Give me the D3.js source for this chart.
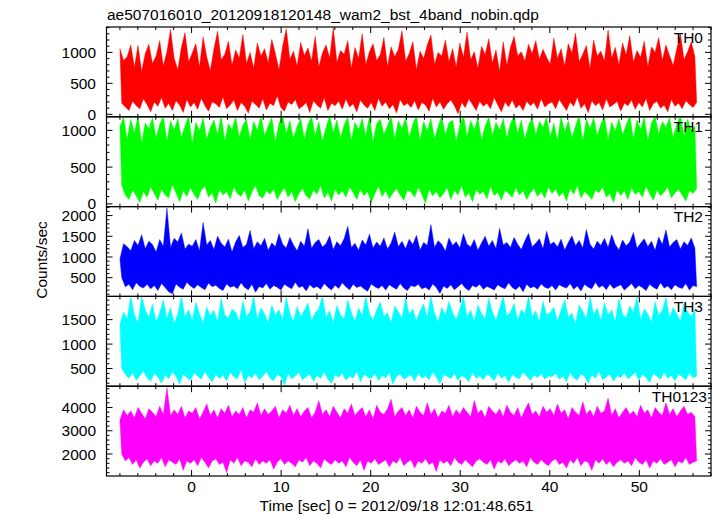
<!DOCTYPE html>
<html>
<head>
<meta charset="utf-8">
<script src="https://cdn.jsdelivr.net/npm/d3@7"></script>
<style>
html,body{margin:0;padding:0;background:#fff;}
svg{display:block;}
text{font-family:"Liberation Sans",Arial,Helvetica,sans-serif;fill:#000;}
</style>
</head>
<body>
<svg id="chart" width="717" height="516"></svg>
<script>
// ---------------- DATA ----------------
const title = "ae507016010_20120918120148_wam2_bst_4band_nobin.qdp";
const xTitle = "Time [sec] 0 = 2012/09/18 12:01:48.651";
const yTitle = "Counts/sec";
const panelNames = ["TH0", "TH1", "TH2", "TH3", "TH0123"];
const timeStart = -8.0, timeEnd = 56.4;           // light-curve span (s)
const xDomain = [-9.5, 58];
const xTickLabels = [0, 10, 20, 30, 40, 50];

const yDomains = [[-40, 1410], [-37, 1184], [48, 2217], [139, 1975], [1056, 4914]];
const yTickLabels = [[0, 500, 1000], [0, 500, 1000], [500, 1000, 1500, 2000], [500, 1000, 1500], [2000, 3000, 4000]];
const yMajorStep = [500, 500, 500, 500, 1000];
const yMinorStep = [100, 100, 100, 100, 200];
const colors = ["#ff0000", "#00ff00", "#0000ff", "#00ffff", "#ff00ff"];

// per-bin upper / lower excursions (counts/sec)
const th0Hi = [1060,870,930,1120,760,1110,690,980,1130,820,940,1190,780,1010,1370,900,720,1080,1320,850,
990,1140,760,1250,930,700,1060,1340,880,970,1180,790,1040,910,1290,820,1000,740,1150,940,
1060,830,1210,980,720,1100,1380,890,1020,780,1160,950,1070,860,1260,760,990,1120,910,1400,
840,1030,970,1190,740,1080,900,1300,800,1010,1140,870,960,1240,770,1090,930,1050,1350,860,
980,1170,720,1020,900,1120,1280,810,1000,940,1200,850,1060,760,1150,920,1330,880,1010,740,
1100,960,1220,830,1040,690,1170,790,1080,1260,940,1010,860,1130,980,1190,890,1050,920,810,
1230,900,1060,780,1140,990,1310,850,970,1110,730,1200,940,1020,860,1360,910,1080,800,1150,
960,1270,840,1030,920,1180,760,1090,1000,1240,870,1120,950,790,1060,1300,880,1010,1170,930];
const th0Lo = [180,120,60,210,140,90,250,160,40,200,130,270,100,180,60,220,150,30,240,120,
190,80,260,140,50,200,170,110,280,90,150,230,60,190,130,20,210,160,100,250,
70,180,140,300,110,50,200,160,240,90,130,190,30,220,150,100,270,60,180,140,
210,80,250,120,170,40,230,150,100,190,60,260,130,200,90,160,20,240,140,180,
110,220,70,190,150,50,260,120,200,80,170,230,140,10,190,110,250,160,60,210,
130,180,90,270,150,40,200,120,230,100,160,60,210,140,190,80,250,120,170,200,
90,240,150,60,200,130,280,100,170,30,220,140,190,70,250,120,160,210,50,180,
140,230,80,190,120,260,60,170,210,100,150,40,240,130,180,90,220,160,110,190];

const th1Hi = [1050,1180,880,1150,960,1200,820,1100,1020,1170,900,1080,1190,850,1130,1000,1160,900,1060,1200,
820,1110,990,1170,880,1040,1140,940,1200,850,1090,1010,1180,910,1070,1150,870,1120,1000,1190,
930,1060,1170,840,1100,1200,960,1130,890,1050,1160,880,1080,1190,930,1120,850,1040,1200,970,
1140,900,1070,1180,860,1110,1010,1160,920,1200,840,1090,1150,950,1060,1190,880,1130,1020,1170,
910,1080,1200,860,1120,990,1160,890,1050,1190,940,1100,1140,850,1070,1200,920,1130,1010,1170,
870,1060,1180,930,1110,1000,1160,900,1090,1200,960,1140,880,1070,1170,940,1120,1040,1180,910,
1100,860,1190,980,1130,900,1060,1200,850,1150,1020,1170,930,1080,1190,870,1110,990,1160,940,
1070,1200,890,1140,1010,1180,860,1100,1190,950,1120,1040,1170,900,1080,1200,930,1150,1000,1060];
const th1Lo = [250,120,60,190,110,20,170,90,230,140,50,200,120,80,260,150,30,180,100,220,
130,60,190,240,90,150,10,200,120,170,70,230,140,100,190,40,160,250,110,80,
180,130,200,60,150,220,90,170,30,140,210,110,70,190,130,250,80,160,40,200,
120,180,90,230,150,60,200,110,170,20,140,240,100,180,70,150,210,120,50,190,
160,90,230,130,10,200,110,170,80,140,220,60,180,120,250,90,150,30,200,130,
170,70,240,110,160,50,190,140,90,220,120,180,60,150,210,100,170,80,230,140,
200,100,160,40,210,130,250,80,170,120,60,190,150,230,90,140,20,200,110,180,
60,220,130,170,90,240,140,50,190,110,160,230,80,150,200,120,40,180,140,210];

const th2Hi = [950,1320,1250,1150,1400,1280,1540,1200,1380,1300,1120,1420,1260,2180,1230,1450,1360,1580,1190,1310,
1260,1420,1150,1830,1290,1400,1180,1500,1330,1240,1430,1120,1360,1520,1230,1300,1640,1200,1370,1270,
1450,1160,1340,1250,1560,1310,1220,1470,1290,1150,1380,1260,1680,1210,1350,1420,1240,1320,1510,1180,
1370,1270,1440,1740,1230,1330,1160,1410,1290,1550,1220,1360,1260,1460,1190,1340,1600,1250,1380,1200,
1430,1300,1520,1170,1350,1280,1780,1230,1390,1310,1140,1460,1280,1370,1220,1560,1310,1240,1420,1160,
1340,1500,1260,1400,1200,1690,1290,1350,1230,1470,1310,1180,1390,1570,1250,1330,1440,1200,1620,1300,
1360,1240,1430,1170,1350,1510,1270,1400,1220,1660,1310,1190,1380,1280,1450,1230,1540,1300,1170,1410,
1270,1360,1590,1210,1330,1440,1250,1380,1160,1480,1300,1650,1240,1350,1420,1190,1370,1280,1460,1220];
const th2Lo = [500,280,340,210,380,290,250,340,230,310,190,360,260,160,110,350,270,220,390,300,
240,330,260,210,370,280,320,240,190,350,270,300,230,380,260,210,340,150,290,250,
360,220,310,270,200,340,280,230,390,260,300,180,330,250,290,220,360,270,200,320,
240,380,280,210,340,260,300,230,170,350,280,240,310,200,330,270,220,360,250,190,
310,280,340,230,270,200,350,260,120,300,240,330,210,280,360,250,190,310,270,340,
220,290,250,200,330,270,230,380,260,210,300,160,340,250,290,220,350,270,240,310,
200,330,280,250,360,220,300,180,340,270,230,390,260,310,210,350,240,290,330,200,
280,360,230,310,260,190,340,270,220,380,250,300,210,330,270,240,360,200,310,280];

const th3Hi = [1400,1650,1520,1980,1600,1430,1980,1700,1550,1820,1460,1640,1900,1530,1750,1420,1610,1980,1560,1700,
1480,1850,1620,1420,1760,1580,1690,1450,1930,1600,1530,1720,1650,1460,1880,1570,1660,1980,1510,1740,
1620,1430,1800,1590,1700,1500,1960,1630,1460,1770,1560,1690,1840,1480,1640,1720,1980,1550,1680,1440,
1790,1600,1510,1900,1650,1460,1740,1580,1980,1620,1490,1700,1860,1570,1640,1430,1780,1660,1530,1950,
1600,1720,1470,1680,1820,1550,1980,1630,1450,1750,1590,1870,1640,1500,1710,1980,1560,1690,1460,1800,
1620,1520,1940,1660,1480,1730,1980,1580,1650,1830,1490,1700,1620,1980,1560,1680,1450,1880,1600,1640,
1760,1470,1690,1910,1550,1630,1420,1800,1670,1520,1980,1600,1740,1480,1850,1590,1700,1460,1930,1610,
1540,1780,1650,1980,1500,1720,1610,1440,1870,1580,1690,1960,1530,1750,1620,1460,1820,1660,1570,1700];
const th3Lo = [500,380,300,420,260,350,450,310,240,400,330,200,370,290,430,340,180,390,310,260,
410,350,280,440,320,230,380,300,360,250,420,330,290,470,210,360,310,400,270,340,
440,300,250,380,330,160,400,290,350,420,270,330,390,240,360,300,430,280,200,370,
320,410,260,350,300,440,230,380,330,290,400,250,360,310,420,180,340,390,280,330,
370,240,410,300,350,270,430,320,190,380,340,290,400,260,360,310,230,420,300,350,
270,390,330,250,410,300,360,220,380,320,290,430,340,260,370,310,400,280,350,330,
400,280,350,230,420,310,260,390,340,200,370,300,440,270,330,380,240,360,310,410,
290,350,420,260,380,320,210,400,340,280,430,300,360,250,390,330,270,410,310,340];

const th0123Hi = [3450,3900,3650,3850,3550,4000,3750,3500,3950,3800,3600,4050,3700,4850,3650,3900,3700,4050,3550,3850,
3750,4000,3500,3800,4150,3650,3900,3550,3950,3750,4100,3600,3850,3700,4000,3550,3900,3800,4200,3650,
3950,3700,3850,4050,3550,3900,3750,4100,3650,3950,3600,3850,4000,3550,3800,4300,3700,3900,3600,4050,
3800,3550,3950,3750,4150,3650,3850,4000,3600,3900,3500,4100,3800,3700,3950,4350,3600,3850,4000,3650,
3900,3550,4050,3800,3650,4200,3700,3950,3550,3850,3750,4100,3600,3900,3700,4000,3800,3600,4300,3750,
3900,3550,4050,3850,3700,3950,3600,4100,3800,3650,4000,3550,3900,4200,3700,3850,3600,4050,3800,3950,
3650,4150,3750,3900,3500,4000,3800,3650,4250,3700,3900,3600,4050,3750,3850,4400,3650,3950,3550,3800,
4000,3700,3850,3600,4100,3750,3900,3550,4000,3800,3650,4200,3700,3950,3600,3850,4050,3700,3800,3600];
const th0123Lo = [2000,1700,1850,1550,1750,1400,1650,1800,1500,1700,1600,1850,1450,1750,1650,1550,1800,1300,1700,1600,
1750,1500,1850,1650,1400,1700,1800,1550,1650,1200,1750,1600,1850,1500,1700,1650,1450,1800,1550,1700,
1600,1750,1350,1650,1800,1550,1700,1600,1450,1750,1650,1850,1500,1700,1600,1400,1800,1650,1550,1750,
1600,1700,1450,1850,1650,1500,1750,1300,1700,1600,1800,1550,1650,1750,1450,1700,1600,1850,1500,1650,
1750,1400,1700,1600,1800,1550,1650,1250,1750,1600,1700,1500,1850,1650,1550,1750,1600,1450,1700,1800,
1650,1550,1750,1350,1700,1600,1800,1500,1650,1750,1600,1700,1450,1850,1650,1550,1750,1600,1500,1700,
1800,1550,1650,1400,1750,1600,1850,1500,1700,1650,1300,1750,1600,1800,1550,1700,1450,1650,1750,1600,
1700,1500,1850,1650,1550,1750,1400,1700,1600,1800,1550,1650,1750,1450,1700,1600,1850,1550,1650,1700];

const seriesHi = [th0Hi, th1Hi, th2Hi, th3Hi, th0123Hi];
const seriesLo = [th0Lo, th1Lo, th2Lo, th3Lo, th0123Lo];

// ---------------- LAYOUT ----------------
const W = 717, H = 516;
const left = 106.5, right = 711;
const top0 = 27, bottom = 476;
const nP = panelNames.length;
const ph = (bottom - top0) / nP;
const labelRight = [703, 703, 703, 703, 707];
const fs = 15.5;

const svg = d3.select("#chart");
const x = d3.scaleLinear().domain(xDomain).range([left, right]);

svg.append("text").attr("x", 107).attr("y", 20).attr("font-size", fs).text(title);

const defs = svg.append("defs");

panelNames.forEach((name, p) => {
  const pt = top0 + p * ph, pb = pt + ph;
  const y = d3.scaleLinear().domain(yDomains[p]).range([pb, pt]);
  const g = svg.append("g");

  defs.append("clipPath").attr("id", "clip" + p)
    .append("rect").attr("x", left).attr("y", pt).attr("width", right - left).attr("height", ph);

  // light curve envelope: upper excursions forward, lower excursions back
  const hi = seriesHi[p], lo = seriesLo[p];
  const n = hi.length;
  const dt = (timeEnd - timeStart) / (n - 0.5);
  const upper = hi.map((v, i) => [timeStart + i * dt, v]);
  const lower = lo.map((v, i) => [timeStart + (i + 0.5) * dt, v]).reverse();
  const line = d3.line().x(d => x(d[0])).y(d => y(d[1]));
  g.append("path").attr("d", line(upper.concat(lower)) + "Z")
    .attr("clip-path", "url(#clip" + p + ")")
    .attr("fill", colors[p]).attr("stroke", colors[p])
    .attr("stroke-opacity", 0.45).attr("stroke-width", 1)
    .attr("stroke-linejoin", "bevel");

  // ticks (inward, all four sides)
  const tk = g.append("g").attr("stroke", "#000").attr("stroke-width", 1);
  const [y0, y1] = yDomains[p];
  const yMinor = d3.range(Math.ceil(y0 / yMinorStep[p]) * yMinorStep[p], y1 + 1e-6, yMinorStep[p]);
  yMinor.forEach(v => {
    const major = Math.abs(v / yMajorStep[p] - Math.round(v / yMajorStep[p])) < 1e-6;
    const len = major ? 6 : 3;
    const yy = y(v);
    tk.append("line").attr("x1", left).attr("x2", left + len).attr("y1", yy).attr("y2", yy);
    tk.append("line").attr("x1", right).attr("x2", right - len).attr("y1", yy).attr("y2", yy);
  });
  const xMinor = d3.range(Math.ceil(xDomain[0] / 2) * 2, xDomain[1] + 1e-6, 2);
  xMinor.forEach(v => {
    const major = v % 10 === 0;
    const len = major ? 6 : 3;
    const xx = x(v);
    tk.append("line").attr("x1", xx).attr("x2", xx).attr("y1", pb).attr("y2", pb - len);
    tk.append("line").attr("x1", xx).attr("x2", xx).attr("y1", pt).attr("y2", pt + len);
  });

  // frame
  g.append("rect").attr("x", left).attr("y", pt).attr("width", right - left).attr("height", ph)
    .attr("fill", "none").attr("stroke", "#000").attr("stroke-width", 1.2);

  // y labels
  yTickLabels[p].forEach(v => {
    g.append("text").attr("x", 96).attr("y", y(v)).attr("dy", "0.36em")
      .attr("text-anchor", "end").attr("font-size", fs).text(v);
  });

  // panel label
  g.append("text").attr("x", labelRight[p]).attr("y", pt + 15.5)
    .attr("text-anchor", "end").attr("font-size", fs).text(name);
});

// x labels
xTickLabels.forEach(v => {
  svg.append("text").attr("x", x(v)).attr("y", 491.5).attr("text-anchor", "middle")
    .attr("font-size", fs).text(v);
});
svg.append("text").attr("x", 396.5).attr("y", 511).attr("text-anchor", "middle")
  .attr("font-size", fs).text(xTitle);
svg.append("text").attr("transform", "translate(46.5,260) rotate(-90)")
  .attr("text-anchor", "middle").attr("font-size", fs).text(yTitle);
</script>
</body>
</html>
